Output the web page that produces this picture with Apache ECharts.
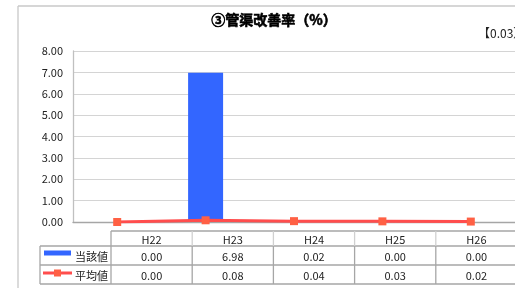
<!DOCTYPE html>
<html>
<head>
<meta charset="utf-8">
<script src="https://cdn.jsdelivr.net/npm/echarts@6/dist/echarts.min.js"></script>
<style>
  html, body { margin: 0; padding: 0; background: #fff; }
  #chart { width: 515px; height: 288px; }
</style>
</head>
<body>
<div id="chart"></div>
<script>
// データ
var categories = ['H22', 'H23', 'H24', 'H25', 'H26']
var seriesNames = ['当該値', '平均値']
var currentValues = [0.00, 6.98, 0.02, 0.00, 0.00]
var averageValues = [0.00, 0.08, 0.04, 0.03, 0.02]
var yTicks = [0, 1, 2, 3, 4, 5, 6, 7, 8]
var titleText = '③管渠改善率（%）'
var noteText = '【0.03】'

var FONT = '"Noto Sans CJK JP", sans-serif'
var BAR_COLOR = '#3366ff'
var LINE_COLOR = '#ff4d4d'
var MARK_COLOR = '#ff6044'

var chart = echarts.init(document.getElementById('chart'))

// 下の表を graphic で組み立てる
function buildTable() {
  var els = []
  var colX0 = 111
  var colW = 81.2
  var legendX0 = 40
  var rows = [231, 246, 265, 284]
  var right = colX0 + colW * categories.length
  var border = { stroke: '#a6a6a6', lineWidth: 1.3 }
  var light = { stroke: '#d0d0d0', lineWidth: 1.3 }

  function line(x1, y1, x2, y2, style) {
    els.push({ type: 'line', shape: { x1: x1, y1: y1, x2: x2, y2: y2 }, style: style, silent: true })
  }
  function text(x, y, str, align) {
    els.push({
      type: 'text', x: x, y: y, silent: true,
      style: { text: str, font: '11px ' + FONT, fill: '#222', align: align || 'center', verticalAlign: 'middle' }
    })
  }

  // 横線
  line(colX0, rows[0], right, rows[0], border)
  line(legendX0, rows[1], right, rows[1], border)
  line(legendX0, rows[2], right, rows[2], border)
  line(legendX0, rows[3], right, rows[3], border)
  // 縦線
  line(legendX0, rows[1], legendX0, rows[3], border)
  for (var i = 0; i <= categories.length; i++) {
    var x = colX0 + colW * i
    line(x, rows[1], x, rows[3], border)
    line(x, rows[0], x, rows[1], i === 0 ? border : light)
  }
  // 見出しと値
  var data = [currentValues, averageValues]
  categories.forEach(function(c, i) {
    var cx = colX0 + colW * (i + 0.5)
    text(cx, (rows[0] + rows[1]) / 2 + 1, c)
    data.forEach(function(arr, r) {
      text(cx, (rows[r + 1] + rows[r + 2]) / 2 + 1, arr[i].toFixed(2))
    })
  })
  // 凡例
  els.push({ type: 'rect', shape: { x: 44, y: 250.5, width: 27, height: 5 }, style: { fill: BAR_COLOR }, silent: true })
  text(75, (rows[1] + rows[2]) / 2 + 1, seriesNames[0], 'left')
  line(43, 273, 72, 273, { stroke: LINE_COLOR, lineWidth: 3 })
  els.push({ type: 'rect', shape: { x: 54, y: 269.5, width: 7, height: 7 }, style: { fill: MARK_COLOR }, silent: true })
  text(75, (rows[2] + rows[3]) / 2 + 1, seriesNames[1], 'left')
  return els
}

var graphics = [
  // 外枠
  { type: 'line', shape: { x1: 18, y1: 6, x2: 515, y2: 6 }, style: { stroke: '#c8c8c8', lineWidth: 1.3 }, silent: true },
  { type: 'line', shape: { x1: 18, y1: 6, x2: 18, y2: 288 }, style: { stroke: '#c8c8c8', lineWidth: 1.3 }, silent: true },
  {
    type: 'text', x: 274, y: 20, silent: true,
    style: {
      text: titleText, font: 'bold 14px ' + FONT, fill: '#000',
      stroke: '#000', lineWidth: 0.6,
      align: 'center', verticalAlign: 'middle'
    }
  },
  {
    type: 'text', x: 478, y: 33, silent: true,
    style: { text: noteText, font: '12px ' + FONT, fill: '#222', align: 'left', verticalAlign: 'middle' }
  }
].concat(buildTable())

chart.setOption({
  animation: false,
  grid: { left: 73, top: 51, width: 444, height: 171 },
  xAxis: {
    type: 'category',
    data: categories,
    axisTick: { show: false },
    axisLabel: { show: false },
    axisLine: { lineStyle: { color: '#a6a6a6', width: 1.3 } }
  },
  yAxis: {
    type: 'value',
    min: yTicks[0],
    max: yTicks[yTicks.length - 1],
    interval: 1,
    axisLine: { show: true, lineStyle: { color: '#c0c0c0', width: 1.3 } },
    axisTick: { show: false },
    axisLabel: {
      margin: 10,
      color: '#222',
      fontSize: 11,
      fontFamily: FONT,
      formatter: function(v) { return v.toFixed(2) }
    },
    splitLine: { lineStyle: { color: '#d4d4d4', width: 1 } }
  },
  series: [
    {
      name: seriesNames[0],
      type: 'bar',
      data: currentValues,
      barWidth: 35,
      itemStyle: { color: BAR_COLOR }
    },
    {
      name: seriesNames[1],
      type: 'line',
      data: averageValues,
      symbol: 'rect',
      symbolSize: 8,
      lineStyle: { color: LINE_COLOR, width: 3 },
      itemStyle: { color: MARK_COLOR }
    }
  ],
  graphic: graphics
})
</script>
</body>
</html>
